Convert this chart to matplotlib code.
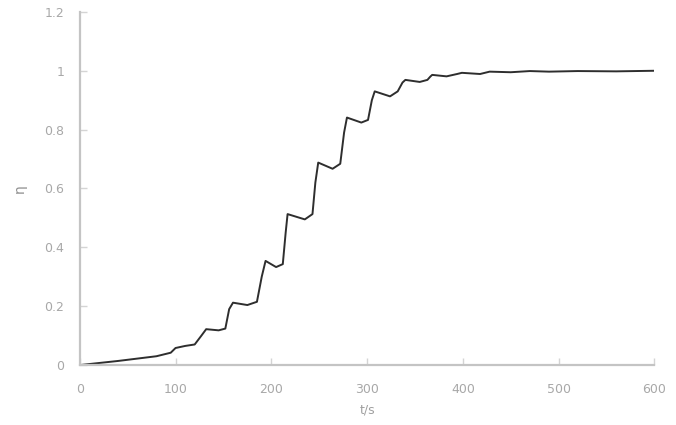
import matplotlib
matplotlib.use("Agg")
import matplotlib.pyplot as plt

# conversion degree vs. time
t = [0, 40, 80, 95, 100, 110, 120, 127, 132, 145, 152, 156, 160, 175, 185,
     190, 194, 205, 212, 215, 217, 235, 243, 246, 249, 264, 272, 276, 279,
     294, 301, 305, 308, 324, 332, 337, 340, 355, 363, 366, 368, 383, 394,
     399, 418, 428, 450, 470, 490, 520, 560, 600]
eta = [0, 0.014, 0.03, 0.042, 0.058, 0.065, 0.07, 0.1, 0.122, 0.118, 0.124,
       0.19, 0.212, 0.204, 0.215, 0.3, 0.354, 0.333, 0.343, 0.45, 0.513,
       0.495, 0.513, 0.62, 0.688, 0.667, 0.684, 0.79, 0.841, 0.824, 0.833,
       0.9, 0.93, 0.913, 0.93, 0.96, 0.969, 0.962, 0.969, 0.98, 0.986,
       0.981, 0.989, 0.993, 0.989, 0.997, 0.995, 0.999, 0.997, 0.999, 0.998, 1.0]

xticks = [0, 100, 200, 300, 400, 500, 600]
yticks = [0, 0.2, 0.4, 0.6, 0.8, 1.0, 1.2]
yticklabels = ["0", "0.2", "0.4", "0.6", "0.8", "1", "1.2"]

fig = plt.figure(figsize=(6.76, 4.25), dpi=100)
ax = fig.add_axes([0.118, 0.141, 0.85, 0.831])

ax.plot(t, eta, color="#2e2e2e", lw=1.4)

ax.set_xlim(0, 600)
ax.set_ylim(0, 1.2)
ax.set_xticks(xticks)
ax.set_yticks(yticks)
ax.set_yticklabels(yticklabels)

for side in ("top", "right"):
    ax.spines[side].set_visible(False)
for side in ("left", "bottom"):
    ax.spines[side].set_color("#c4c4c4")
    ax.spines[side].set_linewidth(1.6)

ax.tick_params(direction="in", length=5, width=1, color="#d4d4d4",
               labelcolor="#a8a8a8", labelsize=9)
ax.tick_params(axis="x", pad=13)
ax.tick_params(axis="y", pad=11)
ax.set_xlabel("t/s", color="#a0a0a0", fontsize=9, labelpad=5)
ax.set_ylabel("η", color="#909090", fontsize=10, labelpad=13)

fig.savefig("out.png", dpi=100)
